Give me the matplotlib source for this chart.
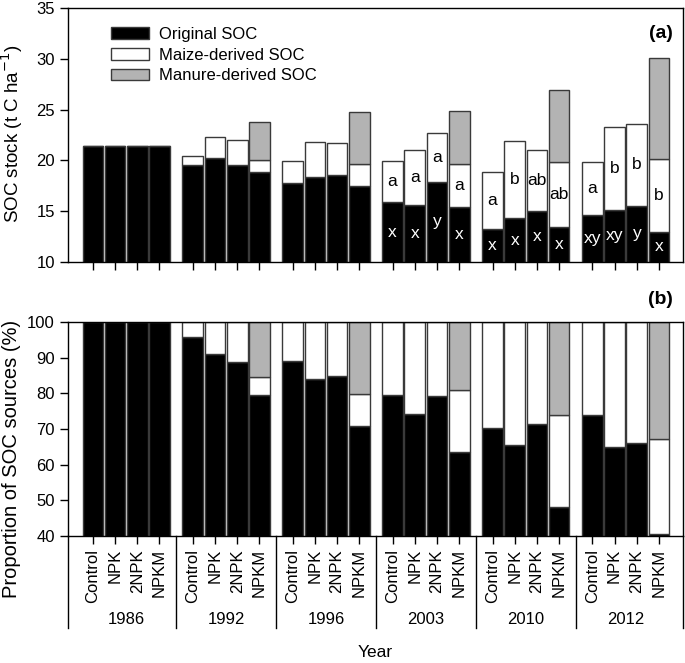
"""
SOC stock and proportion of SOC sources by year and treatment.
Output: out.png
"""
import matplotlib
matplotlib.use("Agg")
import matplotlib.pyplot as plt
import numpy as np
from matplotlib.patches import Patch
from matplotlib.transforms import blended_transform_factory

plt.rcParams["font.family"] = ["Liberation Sans", "DejaVu Sans"]

# ── Data ──────────────────────────────────────────────────────────────────────
years = ["1986", "1992", "1996", "2003", "2010", "2012"]
treatments = ["Control", "NPK", "2NPK", "NPKM"]

# (a) SOC stock, t C/ha, stacked components (year-major, 4 treatments each)
orig_soc = [21.45, 21.45, 21.45, 21.45,
            19.50, 20.27, 19.50, 18.86,
            17.75, 18.37, 18.56, 17.48,
            15.87, 15.58, 17.90, 15.38,
            13.28, 14.33, 14.99, 13.48,
            14.60, 15.15, 15.54, 13.00]
maize_soc = [0, 0, 0, 0,
             0.90, 2.03, 2.48, 1.21,
             2.15, 3.47, 3.19, 2.19,
             4.10, 5.41, 4.77, 4.29,
             5.62, 7.61, 6.06, 6.32,
             5.24, 8.15, 8.06, 7.14]
manure_soc = [0, 0, 0, 0,
              0, 0, 0, 3.68,
              0, 0, 0, 5.06,
              0, 0, 0, 5.16,
              0, 0, 0, 7.10,
              0, 0, 0, 9.96]

# (b) proportion of SOC sources, %
orig_pct = [100, 100, 100, 100,
            95.8, 91.0, 88.9, 79.6,
            89.0, 84.1, 84.9, 70.9,
            79.4, 74.3, 79.2, 63.5,
            70.4, 65.5, 71.4, 48.1,
            73.8, 65.0, 66.0, 40.5]
maize_pct = [0, 0, 0, 0,
             4.2, 9.0, 11.1, 5.0,
             11.0, 15.9, 15.1, 8.8,
             20.6, 25.7, 20.8, 17.4,
             29.6, 34.5, 28.6, 25.9,
             26.2, 35.0, 34.0, 26.6]
manure_pct = [0, 0, 0, 0,
              0, 0, 0, 15.4,
              0, 0, 0, 20.3,
              0, 0, 0, 19.1,
              0, 0, 0, 26.0,
              0, 0, 0, 32.9]

# significance letters (2003, 2010, 2012 only)
maize_letters = ["", "", "", ""] * 3 + ["a", "a", "a", "a",
                                        "a", "b", "ab", "ab",
                                        "a", "b", "b", "b"]
orig_letters = ["", "", "", ""] * 3 + ["x", "x", "y", "x",
                                       "x", "x", "x", "x",
                                       "xy", "xy", "y", "x"]

# ── Layout ────────────────────────────────────────────────────────────────────
BLACK = "#000000"
GRAY = "#b3b3b3"
EDGE = "#3a3a3a"
W, H = 685, 663

x = np.array([g * 4.5 + i for g in range(len(years)) for i in range(4)])
xlim = (-1.12, 26.58)
bw = 0.93

fig = plt.figure(figsize=(W / 100, H / 100), dpi=100)
ax1 = fig.add_axes([68 / W, (H - 262) / H, 615 / W, 254 / H])
ax2 = fig.add_axes([68 / W, (H - 536) / H, 615 / W, 214 / H])

o = np.array(orig_soc)
m = np.array(maize_soc)
mn = np.array(manure_soc)
ax1.bar(x, o, bw, color=BLACK, edgecolor=EDGE, linewidth=1)
ax1.bar(x, m, bw, bottom=o, color="white", edgecolor=EDGE, linewidth=1)
ax1.bar(x[mn > 0], mn[mn > 0], bw, bottom=(o + m)[mn > 0], color=GRAY,
        edgecolor=EDGE, linewidth=1)

for xi, oi, mi, lm, lo in zip(x, o, m, maize_letters, orig_letters):
    if lm:
        ax1.text(xi, oi + mi / 2, lm, ha="center", va="center", fontsize=12.5)
    if lo:
        ax1.text(xi, (10 + oi) / 2, lo, ha="center", va="center",
                 fontsize=12.5, color="white")

ax1.set_xlim(*xlim)
ax1.set_ylim(10, 35)
ax1.set_yticks(range(10, 36, 5))
ax1.set_xticks(x)
ax1.set_xticklabels([])
ax1.set_ylabel("SOC stock (t C ha$^{-1}$)", fontsize=13.5)
ax1.yaxis.set_label_coords(-0.07, 0.506)
ax1.text(0.984, 0.90, "(a)", transform=ax1.transAxes, ha="right", va="center",
         fontsize=14, fontweight="bold")

handles = [Patch(facecolor=BLACK, edgecolor=EDGE, label="Original SOC"),
           Patch(facecolor="white", edgecolor=EDGE, label="Maize-derived SOC"),
           Patch(facecolor=GRAY, edgecolor=EDGE, label="Manure-derived SOC")]
ax1.legend(handles=handles, loc="upper left", bbox_to_anchor=(0.045, 0.985),
           frameon=False, fontsize=12, handlelength=2.3, handleheight=0.7,
           labelspacing=0.35, handletextpad=0.6)

po = np.array(orig_pct)
pm = np.array(maize_pct)
pmn = np.array(manure_pct)
ax2.bar(x, po, bw, color=BLACK, edgecolor=EDGE, linewidth=1)
ax2.bar(x[pm > 0], pm[pm > 0], bw, bottom=po[pm > 0], color="white",
        edgecolor=EDGE, linewidth=1)
ax2.bar(x[pmn > 0], pmn[pmn > 0], bw, bottom=(po + pm)[pmn > 0], color=GRAY,
        edgecolor=EDGE, linewidth=1)

ax2.set_xlim(*xlim)
ax2.set_ylim(40, 100)
ax2.set_yticks(range(40, 101, 10))
ax2.set_xticks(x)
ax2.set_xticklabels(treatments * len(years), rotation=90, fontsize=12)
ax2.set_ylabel("Proportion of SOC sources (%)", fontsize=14.5)
ax2.yaxis.set_label_coords(-0.076, 0.36)
ax2.text(0.984, 1.103, "(b)", transform=ax2.transAxes, ha="right", va="center",
         fontsize=14, fontweight="bold")

# group separators and year labels under the axis
tr = blended_transform_factory(ax2.transData, ax2.transAxes)
seps = [xlim[0]] + [g * 4.5 - 0.75 for g in range(1, len(years))] + [xlim[1]]
for s in seps:
    ax2.plot([s, s], [0, -0.43], transform=tr, color="black", lw=1,
             clip_on=False)
for g, yr in enumerate(years):
    ax2.text(g * 4.5 + 1.5, -0.388, yr, transform=tr, ha="center",
             va="center", fontsize=12)
ax2.text(0.5, -0.545, "Year", transform=ax2.transAxes, ha="center",
         va="center", fontsize=12.5)

for ax in (ax1, ax2):
    ax.tick_params(direction="out", length=6, width=1, labelsize=12,
                   color="black")
    for sp in ax.spines.values():
        sp.set_linewidth(1)

fig.savefig("out.png", dpi=100)
